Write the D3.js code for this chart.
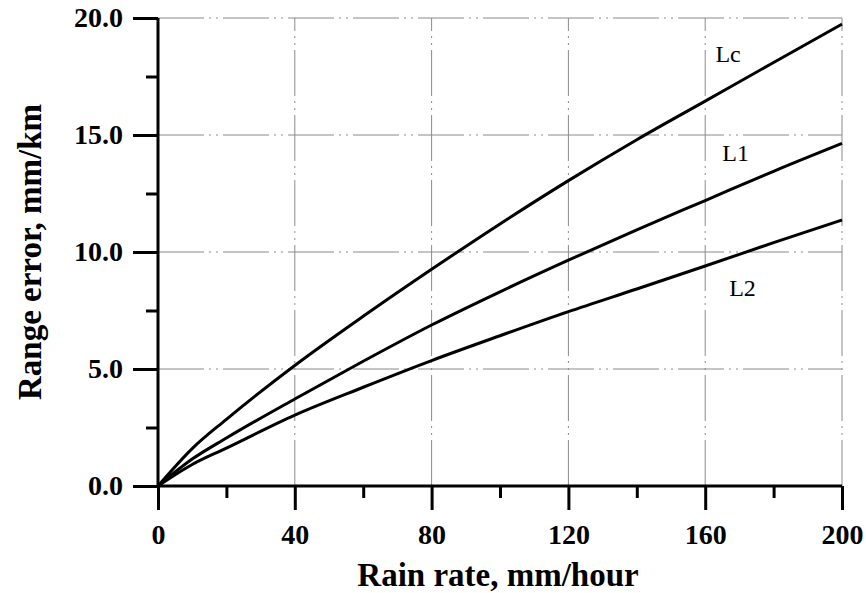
<!DOCTYPE html>
<html>
  <head>
    <meta charset="utf-8">
    <title>Range error vs rain rate</title>
    <script src="https://d3js.org/d3.v7.min.js"></script>
    <style>
      body { margin: 0; background: #fff; }
      svg { display: block; font-family: "Liberation Serif", "Times New Roman", serif; }
      .grid line { stroke: #8a8a8a; stroke-width: 1; stroke-dasharray: 46,5,2,5,2,5; }
      .axis path, .axis line { stroke: #000; stroke-width: 3; }
      .axis text { font-family: "Liberation Serif", "Times New Roman", serif; font-size: 28px; font-weight: bold; fill: #000; }
      .curve { fill: none; stroke: #000; stroke-width: 3; }
      .label { font-size: 24px; fill: #000; }
      .title { font-size: 33px; font-weight: bold; fill: #000; }
    </style>
  </head>
  <body>
    <svg id="chart" width="866" height="593"></svg>
    <script>
      // chart data
      var rainRate = [0, 10, 20, 40, 60, 80, 100, 120, 140, 160, 180, 200];
      var lcError = [0, 1.6, 2.85, 5.15, 7.25, 9.26, 11.2, 13.05, 14.8, 16.45, 18.1, 19.74];
      var l1Error = [0, 1.15, 2.05, 3.72, 5.33, 6.88, 8.3, 9.65, 10.95, 12.2, 13.45, 14.64];
      var l2Error = [0, 0.92, 1.62, 3.03, 4.22, 5.36, 6.42, 7.45, 8.42, 9.4, 10.4, 11.37];
      var seriesNames = ["Lc", "L1", "L2"];
      var xTicks = [0, 40, 80, 120, 160, 200];
      var xMinorTicks = [20, 60, 100, 140, 180];
      var yTicks = [0, 5, 10, 15, 20];
      var yMinorTicks = [2.5, 7.5, 12.5, 17.5];

      var series = [lcError, l1Error, l2Error].map(function(values, i) {
        return {
          key: seriesNames[i],
          points: values.map(function(v, j) { return [rainRate[j], v]; })
        };
      });

      // page elements
      var margin = { top: 18, right: 24, bottom: 107, left: 158 };
      var width = 866, height = 593;
      var chart = d3.select("#chart");

      var x = d3.scaleLinear()
        .domain([0, 200])
        .range([margin.left, width - margin.right]);
      var y = d3.scaleLinear()
        .domain([0, 20])
        .range([height - margin.bottom, margin.top]);

      // grid
      var grid = chart.append("g").attr("class", "grid");
      grid.selectAll(".gx")
        .data(xTicks.slice(1))
        .enter().append("line")
          .attr("x1", function(d) { return x(d); })
          .attr("x2", function(d) { return x(d); })
          .attr("y1", y(0))
          .attr("y2", y(20));
      grid.selectAll(".gy")
        .data(yTicks.slice(1))
        .enter().append("line")
          .attr("x1", x(0))
          .attr("x2", x(200))
          .attr("y1", function(d) { return y(d); })
          .attr("y2", function(d) { return y(d); });

      // axes
      var xAxis = d3.axisBottom(x)
        .tickValues(xTicks)
        .tickFormat(d3.format("d"))
        .tickSizeInner(24)
        .tickSizeOuter(0)
        .tickPadding(14);
      var yAxis = d3.axisLeft(y)
        .tickValues(yTicks)
        .tickFormat(d3.format(".1f"))
        .tickSizeInner(25)
        .tickSizeOuter(0)
        .tickPadding(10);
      chart.append("g")
        .attr("class", "axis")
        .attr("transform", "translate(0," + y(0) + ")")
        .call(xAxis)
        .call(function(g) { g.select(".domain").attr("d", "M" + x(0) + ",0H" + x(200)); });
      chart.append("g")
        .attr("class", "axis")
        .attr("transform", "translate(" + x(0) + ",0)")
        .call(yAxis)
        .call(function(g) { g.select(".domain").attr("d", "M0," + y(20) + "V" + y(0)); });

      // minor ticks
      chart.append("g")
        .attr("class", "axis")
        .attr("transform", "translate(0," + y(0) + ")")
        .call(d3.axisBottom(x).tickValues(xMinorTicks).tickSize(12).tickFormat(""))
        .call(function(g) { g.select(".domain").remove(); });
      chart.append("g")
        .attr("class", "axis")
        .attr("transform", "translate(" + x(0) + ",0)")
        .call(d3.axisLeft(y).tickValues(yMinorTicks).tickSize(12).tickFormat(""))
        .call(function(g) { g.select(".domain").remove(); });

      // curves
      var line = d3.line()
        .x(function(d) { return x(d[0]); })
        .y(function(d) { return y(d[1]); })
        .curve(d3.curveMonotoneX);
      chart.append("g")
        .selectAll(".curve")
        .data(series)
        .enter().append("path")
          .attr("class", "curve")
          .attr("d", function(d) { return line(d.points); });

      // curve labels
      var labelPos = { Lc: [163, 18.1], L1: [165, 13.9], L2: [167, 8.1] };
      chart.append("g")
        .selectAll(".label")
        .data(series)
        .enter().append("text")
          .attr("class", "label")
          .attr("x", function(d) { return x(labelPos[d.key][0]); })
          .attr("y", function(d) { return y(labelPos[d.key][1]); })
          .text(function(d) { return d.key; });

      // titles
      chart.append("text")
        .attr("class", "title")
        .attr("x", 498)
        .attr("y", 586)
        .attr("text-anchor", "middle")
        .text("Rain rate, mm/hour");
      chart.append("text")
        .attr("class", "title")
        .attr("transform", "translate(41,252) rotate(-90)")
        .attr("text-anchor", "middle")
        .text("Range error, mm/km");
    </script>
  </body>
</html>
